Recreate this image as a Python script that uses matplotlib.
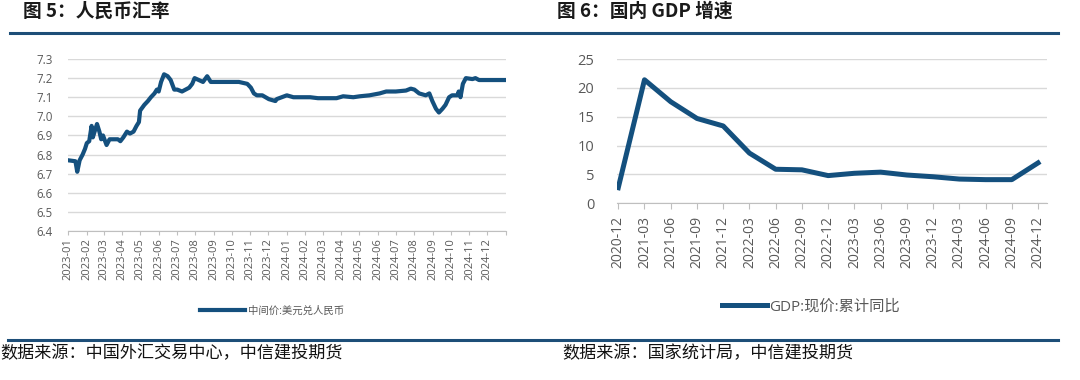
import matplotlib
matplotlib.use("Agg")
import matplotlib.pyplot as plt
import matplotlib.dates as mdates
from matplotlib.lines import Line2D
import pandas as pd

plt.rcParams["font.family"] = ["Open Sans", "Noto Sans CJK SC", "DejaVu Sans"]

blue = "#14507e"
tick_c = "#595959"
grid_c = "#d9d9d9"
rule_c = "#1d4e78"

# 图5：人民币汇率
fx_dates = ["2023-01-01", "2023-01-13", "2023-01-16", "2023-01-20", "2023-01-25", "2023-01-29",
            "2023-02-01", "2023-02-05", "2023-02-09", "2023-02-11", "2023-02-15", "2023-02-18",
            "2023-02-22", "2023-02-25", "2023-02-28", "2023-03-06", "2023-03-11", "2023-03-19",
            "2023-03-25", "2023-03-29", "2023-04-03", "2023-04-09", "2023-04-14", "2023-04-20",
            "2023-04-25", "2023-04-29", "2023-05-01", "2023-05-08", "2023-05-14", "2023-05-19",
            "2023-05-25", "2023-05-29", "2023-06-01", "2023-06-05", "2023-06-10", "2023-06-16",
            "2023-06-21", "2023-06-27", "2023-07-02", "2023-07-10", "2023-07-16", "2023-07-22",
            "2023-07-27", "2023-07-31", "2023-08-07", "2023-08-14", "2023-08-21", "2023-08-27",
            "2023-09-04", "2023-09-21", "2023-10-13", "2023-10-27", "2023-11-02", "2023-11-07",
            "2023-11-12", "2023-11-21", "2023-12-02", "2023-12-13", "2023-12-15", "2024-01-01",
            "2024-01-12", "2024-02-09", "2024-02-22", "2024-03-07", "2024-03-24", "2024-04-04",
            "2024-04-21", "2024-05-02", "2024-05-18", "2024-06-04", "2024-06-15", "2024-07-01",
            "2024-07-18", "2024-07-26", "2024-08-01", "2024-08-09", "2024-08-20", "2024-08-26",
            "2024-08-31", "2024-09-06", "2024-09-11", "2024-09-17", "2024-09-22", "2024-09-28",
            "2024-10-03", "2024-10-12", "2024-10-14", "2024-10-17", "2024-10-21", "2024-10-26",
            "2024-11-06", "2024-11-11", "2024-11-17", "2024-12-09", "2024-12-30"]
fx_values = [6.77, 6.765, 6.71, 6.77, 6.80, 6.83,
             6.86, 6.87, 6.95, 6.89, 6.93, 6.96,
             6.92, 6.88, 6.90, 6.85, 6.88, 6.88,
             6.88, 6.87, 6.89, 6.92, 6.91, 6.92,
             6.95, 6.97, 7.03, 7.06, 7.08, 7.10,
             7.12, 7.14, 7.13, 7.18, 7.22, 7.21,
             7.19, 7.14, 7.14, 7.13, 7.14, 7.15,
             7.17, 7.20, 7.19, 7.18, 7.21, 7.18,
             7.18, 7.18, 7.18, 7.17, 7.15, 7.12,
             7.11, 7.11, 7.09, 7.08, 7.09, 7.11,
             7.10, 7.10, 7.095, 7.095, 7.095, 7.105,
             7.10, 7.105, 7.11, 7.12, 7.13, 7.13,
             7.135, 7.145, 7.14, 7.12, 7.11, 7.12,
             7.08, 7.04, 7.02, 7.04, 7.06, 7.10,
             7.11, 7.11, 7.13, 7.10, 7.17, 7.20,
             7.195, 7.20, 7.19, 7.19, 7.19]
fx_label = "中间价:美元兑人民币"

# 图6：国内 GDP 增速
gdp_quarters = ["2020-12", "2021-03", "2021-06", "2021-09", "2021-12", "2022-03",
                "2022-06", "2022-09", "2022-12", "2023-03", "2023-06", "2023-09",
                "2023-12", "2024-03", "2024-06", "2024-09", "2024-12"]
gdp_values = [2.7, 21.4, 17.6, 14.7, 13.4, 8.7, 5.9, 5.8, 4.8, 5.2, 5.4, 4.9,
              4.6, 4.2, 4.1, 4.1, 7.0]
gdp_label = "GDP:现价:累计同比"

fig = plt.figure(figsize=(10.8, 3.8), dpi=100)

# ---- left chart ----
ax1 = fig.add_axes([0.0632, 0.3921, 0.4053, 0.4526])
ax1.plot(pd.to_datetime(fx_dates), fx_values, color=blue, lw=3.0, label=fx_label,
         solid_joinstyle="round")
ax1.set_ylim(6.4, 7.3)
ax1.set_yticks([6.4 + 0.1 * i for i in range(10)])
ax1.set_yticklabels([f"{6.4 + 0.1 * i:.1f}" for i in range(10)])
months = pd.date_range("2023-01-01", "2025-01-01", freq="MS")
ax1.set_xlim(months[0], months[-1])
ax1.set_xticks(months)
ax1.set_xticklabels([m.strftime("%Y-%m") for m in months[:-1]] + [""], rotation=90)
ax1.grid(axis="y", color=grid_c, lw=1.0)
ax1.set_axisbelow(True)
for s in ["top", "right", "left"]:
    ax1.spines[s].set_visible(False)
ax1.spines["bottom"].set_color("#bfbfbf")
ax1.tick_params(axis="y", length=0, pad=11, labelsize=8.3, labelcolor=tick_c)
ax1.tick_params(axis="x", length=3, width=0.8, color="#bfbfbf", pad=2,
                labelsize=8, labelcolor=tick_c)
ax1.legend(loc="center", bbox_to_anchor=(0.252, 0.18), bbox_transform=fig.transFigure,
           frameon=False, fontsize=7.5, handlelength=4.3, handletextpad=0.3,
           labelcolor=tick_c)

# ---- right chart ----
ax2 = fig.add_axes([0.571, 0.465, 0.3984, 0.3797])
xs = range(len(gdp_quarters))
ax2.plot(xs, gdp_values, color=blue, lw=3.6, label=gdp_label, solid_joinstyle="round")
ax2.set_ylim(0, 25)
ax2.set_yticks(range(0, 26, 5))
ax2.set_xlim(-0.06, len(gdp_quarters) - 1 + 0.34)
ax2.set_xticks(list(xs))
ax2.set_xticklabels(gdp_quarters, rotation=90)
ax2.grid(axis="y", color=grid_c, lw=1.0)
ax2.set_axisbelow(True)
for s in ["top", "right", "left"]:
    ax2.spines[s].set_visible(False)
ax2.spines["bottom"].set_color("#bfbfbf")
ax2.tick_params(axis="y", length=0, pad=16, labelsize=10.5, labelcolor=tick_c)
ax2.tick_params(axis="x", length=4, width=0.8, color="#bfbfbf", pad=5,
                labelsize=10, labelcolor=tick_c)
ax2.legend(loc="center", bbox_to_anchor=(0.751, 0.193), bbox_transform=fig.transFigure,
           frameon=False, fontsize=11, handlelength=2.9, handletextpad=0.15,
           labelcolor=tick_c)

# ---- titles, rules, sources ----
cjk = ["Noto Sans CJK SC", "DejaVu Sans"]
fig.text(0.021, 0.971, "图 5：人民币汇率", family=cjk, fontsize=13.5, fontweight="bold",
         color="#1a1a1a", va="center", ha="left")
fig.text(0.5155, 0.971, "图 6：国内 GDP 增速", family=cjk, fontsize=13.5, fontweight="bold",
         color="#1a1a1a", va="center", ha="left")
fig.add_artist(Line2D([0.009, 0.98], [0.913, 0.913], transform=fig.transFigure,
                      color=rule_c, lw=2.2))
fig.add_artist(Line2D([0.007, 0.98], [0.1053, 0.1053], transform=fig.transFigure,
                      color=rule_c, lw=2.2))
fig.text(0.0, 0.07, "数据来源：中国外汇交易中心，中信建投期货", family=cjk, fontsize=12.3,
         fontstyle="italic", color="#111111", va="center", ha="left")
fig.text(0.521, 0.07, "数据来源：国家统计局，中信建投期货", family=cjk, fontsize=12.3,
         fontstyle="italic", color="#111111", va="center", ha="left")

fig.savefig("out.png", dpi=100)
